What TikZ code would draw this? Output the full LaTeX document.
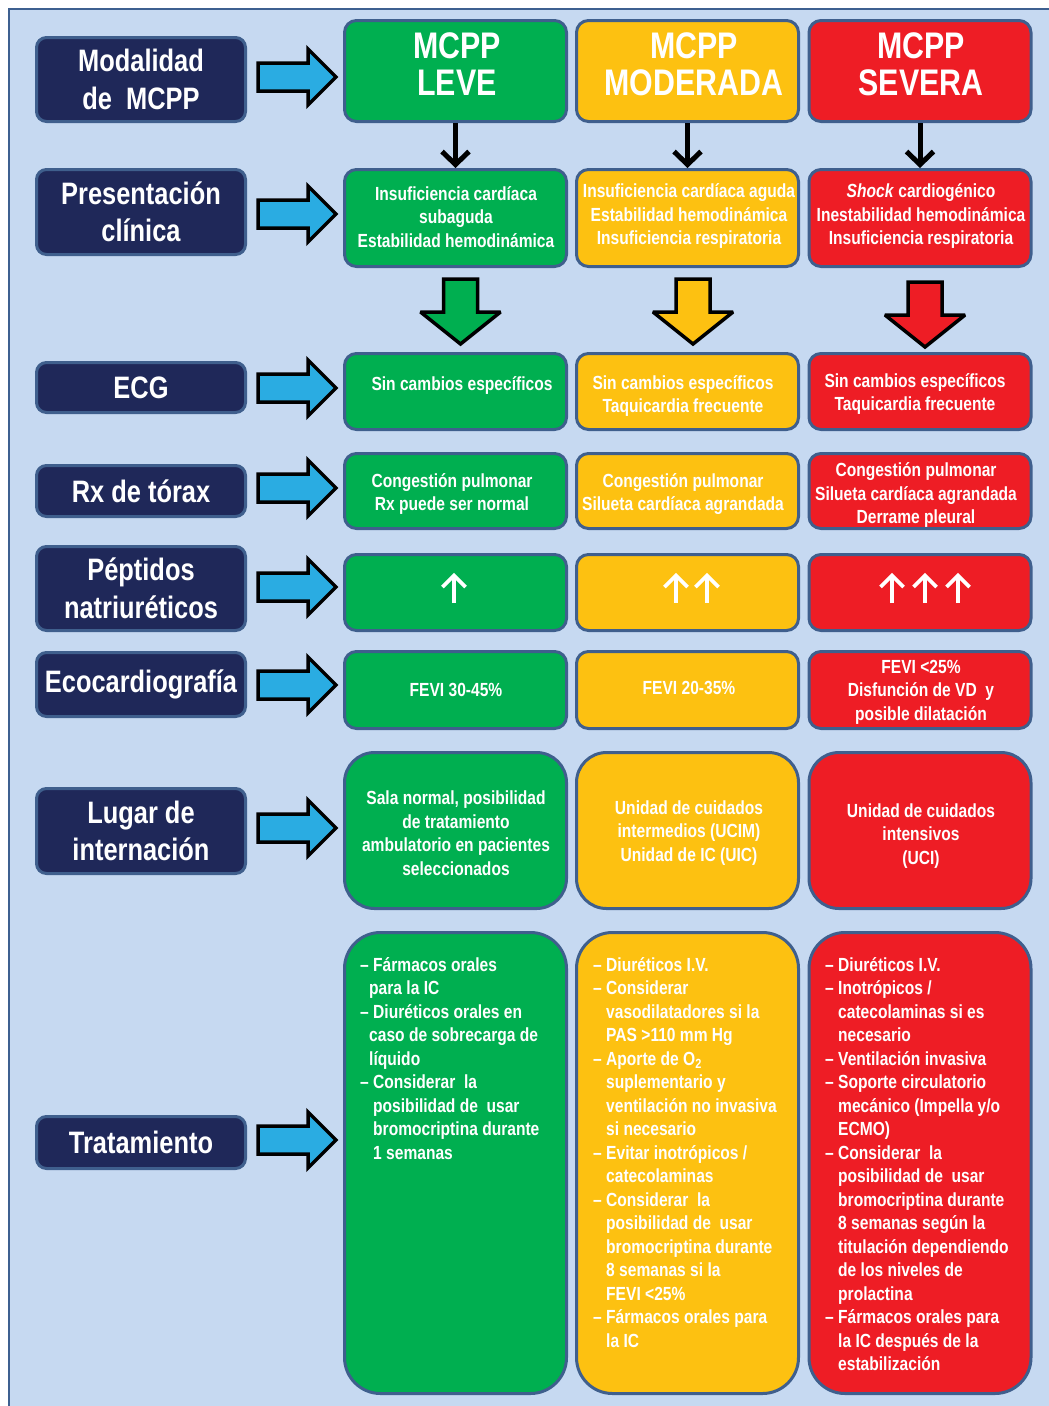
\documentclass[tikz,border=0pt]{standalone}
\usepackage{fontspec}
\setmainfont{Liberation Sans}[FakeStretch=0.82]
\usetikzlibrary{arrows.meta}
\definecolor{bg}{HTML}{C6D9F1}
\definecolor{frame}{HTML}{3D6090}
\definecolor{navy}{HTML}{1F2859}
\definecolor{cgreen}{HTML}{00AF50}
\definecolor{cyellow}{HTML}{FDC111}
\definecolor{cred}{HTML}{EE1D25}
\definecolor{boxedge}{HTML}{3F5F8D}
\definecolor{ablue}{HTML}{2AACE2}
\newcommand\dsh{\makebox[13pt][l]{–}}
\newcommand\ind{\hspace*{13pt}}
\newcommand\bluearrow[1]{\draw[barrow] (258,#1-14) -- (308,#1-14) -- (308,#1-28) -- (336,#1) -- (308,#1+28) -- (308,#1+14) -- (258,#1+14) -- cycle;}
\newcommand\bigdown[3]{\draw[bigarr,fill=#3] (#1-17,#2) -- (#1+17,#2) -- (#1+17,#2+33) -- (#1+40,#2+33) -- (#1,#2+65) -- (#1-40,#2+33) -- (#1-17,#2+33) -- cycle;}
\newcommand\uparr[1]{\draw[uparrow] (#1,603) -- (#1,576); \draw[uparrow] (#1-11.5,587) -- (#1,575.5) -- (#1+11.5,587);}
\begin{document}
\begin{tikzpicture}[x=1pt,y=-1pt,
  base/.style={draw=boxedge, line width=3pt, inner sep=0pt},
  lab/.style={base, fill=navy, rounded corners=10pt, minimum width=209pt, text=white, align=center,
    font=\bfseries\fontsize{31}{37.5}\selectfont},
  cell/.style={base, rounded corners=12pt, minimum width=222pt},
  big/.style={base, rounded corners=30pt, minimum width=222pt},
  txt/.style={text=white, align=center, inner sep=0pt, font=\bfseries\fontsize{19}{23.5}\selectfont},
  head/.style={text=white, align=center, inner sep=0pt, font=\bfseries\fontsize{37}{37}\selectfont},
  ltxt/.style={text=white, align=left, inner sep=0pt, anchor=north west, font=\bfseries\fontsize{19}{23.5}\selectfont},
  uparrow/.style={draw=white, line width=3.6pt, miter limit=10},
  barrow/.style={draw=black, line width=3.5pt, fill=ablue, miter limit=3},
  bigarr/.style={draw=black, line width=3.5pt, miter limit=3},
  blk/.style={line width=5pt, -{Straight Barb[length=13pt,width=27pt]}},
]
\useasboundingbox (0,0) rectangle (1049,1406);
\draw[draw=frame, line width=2pt, fill=bg] (9,9) rectangle (1070,1430);

% left labels
\node[lab, minimum height=84pt] (l1) at (141,79.5) {Modalidad\\de\ \ MCPP};
\node[lab, minimum height=85pt] (l2) at (141,212) {Presentación\\clínica};
\node[lab, minimum height=50pt] (l3) at (141,387.5) {ECG};
\node[lab, minimum height=51pt] (l4) at (141,491) {Rx de tórax};
\node[lab, minimum height=84pt] (l5) at (141,588.5) {Péptidos\\natriuréticos};
\node[lab, minimum height=64pt] (l6) at (141,684.5) {Ecocardiografía};
\node[lab, minimum height=85pt] (l7) at (141,831) {Lugar de\\internación};
\node[lab, minimum height=52pt] (l8) at (141,1142.5) {Tratamiento};

% blue arrows
\bluearrow{77}
\bluearrow{214}
\bluearrow{388}
\bluearrow{488}
\bluearrow{587}
\bluearrow{685}
\bluearrow{828}
\bluearrow{1140}

% row 1
\node[cell, fill=cgreen, minimum height=101pt] (g1) at (455.5,71) {};
\node[cell, fill=cyellow, minimum height=101pt] (y1) at (687.5,71) {};
\node[cell, fill=cred, minimum height=101pt] (r1) at (920,71) {};
\node[head] (g1t) at (457,64) {MCPP\\LEVE};
\node[head] (y1t) at (694,64) {MCPP\\MODERADA};
\node[head] (r1t) at (921,64) {MCPP\\SEVERA};

% row 2
\node[cell, fill=cgreen, minimum height=97pt] (g2) at (455.5,218) {};
\node[cell, fill=cyellow, minimum height=97pt] (y2) at (687.5,218) {};
\node[cell, fill=cred, minimum height=97pt] (r2) at (920,218) {};
\node[txt] (g2t) at (456,217) {Insuficiencia cardíaca\\subaguda\\Estabilidad hemodinámica};
\node[txt] (y2t) at (689,216) {Insuficiencia cardíaca aguda\\Estabilidad hemodinámica\\Insuficiencia respiratoria};
\node[txt] (r2t) at (921,216) {\textit{Shock} cardiogénico\\Inestabilidad hemodinámica\\Insuficiencia respiratoria};

\draw[blk] (g1.south) -- (g2.north);
\draw[blk] (y1.south) -- (y2.north);
\draw[blk] (r1.south) -- (r2.north);

% big down arrows
\bigdown{460.5}{279}{cgreen}
\bigdown{693}{279}{cyellow}
\bigdown{925}{282}{cred}

% row 3
\node[cell, fill=cgreen, minimum height=76pt] (g3) at (455.5,391.5) {};
\node[cell, fill=cyellow, minimum height=76pt] (y3) at (687.5,391.5) {};
\node[cell, fill=cred, minimum height=76pt] (r3) at (920,391.5) {};
\node[txt] (g3t) at (462,385) {Sin cambios específicos};
\node[txt] (y3t) at (683,396) {Sin cambios específicos\\Taquicardia frecuente};
\node[txt] (r3t) at (915,394) {Sin cambios específicos\\Taquicardia frecuente};

% row 4
\node[cell, fill=cgreen, minimum height=75pt] (g4) at (455.5,491) {};
\node[cell, fill=cyellow, minimum height=75pt] (y4) at (687.5,491) {};
\node[cell, fill=cred, minimum height=75pt] (r4) at (920,491) {};
\node[txt] (g4t) at (452,494) {Congestión pulmonar\\Rx puede ser normal};
\node[txt] (y4t) at (683,494) {Congestión pulmonar\\Silueta cardíaca agrandada};
\node[txt] (r4t) at (916,495) {Congestión pulmonar\\Silueta cardíaca agrandada\\Derrame pleural};

% row 5
\node[cell, fill=cgreen, minimum height=76pt] (g5) at (455.5,592.5) {};
\node[cell, fill=cyellow, minimum height=76pt] (y5) at (687.5,592.5) {};
\node[cell, fill=cred, minimum height=76pt] (r5) at (920,592.5) {};
\uparr{454}
\uparr{676}
\uparr{707}
\uparr{892}
\uparr{925}
\uparr{958}

% row 6
\node[cell, fill=cgreen, minimum height=77pt] (g6) at (455.5,690) {};
\node[cell, fill=cyellow, minimum height=77pt] (y6) at (687.5,690) {};
\node[cell, fill=cred, minimum height=77pt] (r6) at (920,690) {};
\node[txt] (g6t) at (456,689.5) {FEVI 30-45\%};
\node[txt] (y6t) at (689,687.5) {FEVI 20-35\%};
\node[txt] (r6t) at (921,692) {FEVI <25\%\\Disfunción de VD\ \ y\\posible dilatación};

% row 7
\node[big, fill=cgreen, minimum height=156pt] (g7) at (455.5,830.5) {};
\node[big, fill=cyellow, minimum height=156pt] (y7) at (687.5,830.5) {};
\node[big, fill=cred, minimum height=156pt] (r7) at (920,830.5) {};
\node[txt] (g7t) at (456,833) {Sala normal, posibilidad\\de tratamiento\\ambulatorio en pacientes\\seleccionados};
\node[txt] (y7t) at (689,833) {Unidad de cuidados\\intermedios (UCIM)\\Unidad de IC (UIC)};
\node[txt] (r7t) at (921,836) {Unidad de cuidados\\intensivos\\(UCI)};

% row 8
\node[big, rounded corners=36pt, fill=cgreen, minimum height=461pt] (g8) at (455.5,1163) {};
\node[big, rounded corners=36pt, fill=cyellow, minimum height=461pt] (y8) at (687.5,1163) {};
\node[big, rounded corners=36pt, fill=cred, minimum height=461pt] (r8) at (920,1163) {};
\node[ltxt] (g8t) at (360,957) {\dsh Fármacos orales\\\hspace*{9pt}para la IC\\\dsh Diuréticos orales en\\\hspace*{9pt}caso de sobrecarga de\\\hspace*{9pt}líquido\\\dsh Considerar\ \ la\\\ind posibilidad de\ \ usar\\\ind bromocriptina durante\\\ind 1 semanas};
\node[ltxt] (y8t) at (593,957) {\dsh Diuréticos I.V.\\\dsh Considerar\\\ind vasodilatadores si la\\\ind PAS >110 mm Hg\\\dsh Aporte de O\textsubscript{2}\\\ind suplementario y\\\ind ventilación no invasiva\\\ind si necesario\\\dsh Evitar inotrópicos /\\\ind catecolaminas\\\dsh Considerar\ \ la\\\ind posibilidad de\ \ usar\\\ind bromocriptina durante\\\ind 8 semanas si la\\\ind FEVI <25\%\\\dsh Fármacos orales para\\\ind la IC};
\node[ltxt] (r8t) at (825,957) {\dsh Diuréticos I.V.\\\dsh Inotrópicos /\\\ind catecolaminas si es\\\ind necesario\\\dsh Ventilación invasiva\\\dsh Soporte circulatorio\\\ind mecánico (Impella y/o\\\ind ECMO)\\\dsh Considerar\ \ la\\\ind posibilidad de\ \ usar\\\ind bromocriptina durante\\\ind 8 semanas según la\\\ind titulación dependiendo\\\ind de los niveles de\\\ind prolactina\\\dsh Fármacos orales para\\\ind la IC después de la\\\ind estabilización};
\end{tikzpicture}
\end{document}
